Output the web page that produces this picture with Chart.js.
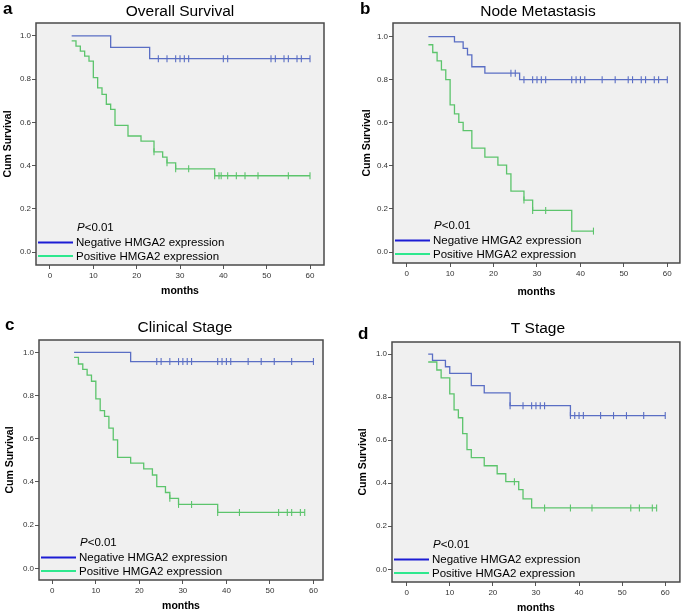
<!DOCTYPE html>
<html>
<head>
<meta charset="utf-8">
<script src="https://cdn.jsdelivr.net/npm/chart.js@4.4.1/dist/chart.umd.min.js"></script>
<style>
  body { margin: 0; background: #fff; width: 685px; height: 614px; position: relative; overflow: hidden; }
  canvas { position: absolute; }
</style>
</head>
<body>
<canvas id="chartA" width="340" height="300" style="left:0;top:0"></canvas>
<canvas id="chartB" width="345" height="300" style="left:340px;top:0"></canvas>
<canvas id="chartC" width="340" height="314" style="left:0;top:300px"></canvas>
<canvas id="chartD" width="345" height="314" style="left:340px;top:300px"></canvas>
<script>
// tick labels
const monthTicks = [0, 10, 20, 30, 40, 50, 60];
const survTicks = [0, 0.2, 0.4, 0.6, 0.8, 1.0];

// a - Overall Survival
const osNegTimes = [5, 14, 23];
const osNegSurv = [1.0, 0.947, 0.895];
const osNegCensor = [25, 27, 29, 30, 31, 32, 40, 41, 51, 52, 54, 55, 57, 58, 60];
const osPosTimes = [5, 6, 7, 8, 9, 10, 11, 12, 13, 14, 15, 18, 21, 24, 26, 27, 29, 38];
const osPosSurv = [0.977, 0.953, 0.930, 0.907, 0.884, 0.807, 0.760, 0.730, 0.684, 0.660, 0.586, 0.537, 0.513, 0.464, 0.439, 0.413, 0.385, 0.353];
const osPosCensor = [24, 27, 29, 32, 38, 39, 39.5, 41, 43, 45, 48, 55, 60];

// b - Node Metastasis
const nmNegTimes = [5, 11, 13, 14, 15, 18, 26];
const nmNegSurv = [1.0, 0.975, 0.945, 0.915, 0.860, 0.830, 0.800];
const nmNegCensor = [24, 25, 27, 29, 30, 31, 32, 38, 39, 40, 41, 45, 48, 51, 52, 54, 55, 57, 58, 60];
const nmPosTimes = [5, 6, 7, 8, 9, 10, 11, 12, 13, 15, 18, 21, 23, 24, 27, 29, 38];
const nmPosSurv = [0.962, 0.926, 0.887, 0.845, 0.800, 0.683, 0.641, 0.602, 0.563, 0.482, 0.440, 0.403, 0.363, 0.283, 0.241, 0.193, 0.097];
const nmPosCensor = [27, 29, 32, 43];

// c - Clinical Stage
const csNegTimes = [5, 18];
const csNegSurv = [1.0, 0.957];
const csNegCensor = [24, 25, 27, 29, 30, 31, 32, 38, 39, 40, 41, 45, 48, 51, 55, 60];
const csPosTimes = [5, 6, 7, 8, 9, 10, 11, 12, 13, 14, 15, 18, 21, 23, 24, 26, 27, 29, 38];
const csPosSurv = [0.977, 0.946, 0.921, 0.894, 0.866, 0.784, 0.730, 0.703, 0.649, 0.595, 0.514, 0.487, 0.460, 0.432, 0.378, 0.351, 0.324, 0.296, 0.259];
const csPosCensor = [27, 29, 32, 38, 43, 52, 54, 55, 57, 58];

// d - T Stage
const tsNegTimes = [5, 6, 9, 10, 15, 18, 24, 38];
const tsNegSurv = [1.0, 0.971, 0.941, 0.910, 0.853, 0.820, 0.760, 0.714];
const tsNegCensor = [24, 27, 29, 30, 31, 32, 38, 39, 40, 41, 45, 48, 51, 55, 60];
const tsPosTimes = [5, 7, 8, 10, 11, 12, 13, 14, 15, 18, 21, 23, 26, 27, 29];
const tsPosSurv = [0.963, 0.926, 0.889, 0.815, 0.741, 0.704, 0.630, 0.556, 0.519, 0.481, 0.444, 0.407, 0.370, 0.327, 0.285];
const tsPosCensor = [25, 32, 38, 43, 52, 54, 57, 58];

const seriesNames = ['Negative HMGA2 expression', 'Positive HMGA2 expression'];
const NEG_COLOR = '#5a6ec4';
const POS_COLOR = '#5cc46c';
const NEG_KEY = '#1c1cd4';
const POS_KEY = '#2ee88e';
const FONT = 'Arial, "Liberation Sans", sans-serif';

function survAt(times, surv, t) {
  let s = surv[0];
  for (let i = 0; i < times.length; i++) {
    if (times[i] <= t) s = surv[i];
  }
  return s;
}

function stepData(times, surv, censor) {
  const pts = times.map((t, i) => ({ x: t, y: surv[i] }));
  const end = Math.max(times[times.length - 1], ...censor);
  pts.push({ x: end, y: surv[surv.length - 1] });
  return pts;
}

function censorData(times, surv, censor) {
  return censor.map(t => ({ x: t, y: survAt(times, surv, t) }));
}

function groupDatasets(times, surv, censor, color) {
  return [
    {
      type: 'line',
      data: stepData(times, surv, censor),
      stepped: 'before',
      borderColor: color,
      borderWidth: 1.3,
      pointRadius: 0,
      fill: false
    },
    {
      type: 'scatter',
      data: censorData(times, surv, censor),
      pointStyle: 'line',
      rotation: 90,
      pointRadius: 3.5,
      borderColor: color,
      borderWidth: 1.1,
      showLine: false
    }
  ];
}

// draws background, frame, titles and the in-plot key
const panelDecor = {
  id: 'panelDecor',
  beforeDraw(chart) {
    const { ctx, chartArea: a } = chart;
    ctx.save();
    ctx.fillStyle = '#f0f0f0';
    ctx.fillRect(a.left, a.top, a.right - a.left, a.bottom - a.top);
    ctx.restore();
  },
  afterDraw(chart, args, o) {
    const { ctx, chartArea: a } = chart;
    const cx = (a.left + a.right) / 2;
    ctx.save();
    ctx.strokeStyle = '#4a4a4a';
    ctx.lineWidth = 1.5;
    ctx.strokeRect(a.left, a.top, a.right - a.left, a.bottom - a.top);

    ctx.fillStyle = '#000';
    ctx.textBaseline = 'alphabetic';
    ctx.textAlign = 'left';
    ctx.font = 'bold 17px ' + FONT;
    ctx.fillText(o.letter, o.letterX, o.letterY);

    ctx.textAlign = 'center';
    ctx.font = '15.5px ' + FONT;
    ctx.fillText(o.title, cx + (o.titleDx || 0), o.titleY);

    ctx.font = 'bold 10.5px ' + FONT;
    ctx.textBaseline = 'middle';
    ctx.fillText('months', cx, o.monthsY);
    ctx.save();
    ctx.translate(o.yTitleX, (a.top + a.bottom) / 2);
    ctx.rotate(-Math.PI / 2);
    ctx.fillText('Cum Survival', 0, 0);
    ctx.restore();

    // p value
    ctx.textAlign = 'left';
    ctx.font = 'italic 11.5px ' + FONT;
    const px = a.left + 41;
    const py = a.bottom - 37;
    ctx.fillText('P', px, py);
    const pw = ctx.measureText('P').width;
    ctx.font = '11.5px ' + FONT;
    ctx.fillText('<0.01', px + pw, py);

    // key
    const keys = [NEG_KEY, POS_KEY];
    const ys = [a.bottom - 22.5, a.bottom - 9];
    keys.forEach((c, i) => {
      ctx.strokeStyle = c;
      ctx.lineWidth = 2;
      ctx.beginPath();
      ctx.moveTo(a.left + 2, ys[i]);
      ctx.lineTo(a.left + 37, ys[i]);
      ctx.stroke();
      ctx.fillStyle = '#000';
      ctx.fillText(seriesNames[i], a.left + 40, ys[i] + 0.5);
    });
    ctx.restore();
  }
};

function makeChart(id, p) {
  const canvas = document.getElementById(id);
  const W = canvas.width, H = canvas.height;
  new Chart(canvas, {
    type: 'line',
    data: {
      datasets: [
        ...groupDatasets(p.neg[0], p.neg[1], p.neg[2], NEG_COLOR),
        ...groupDatasets(p.pos[0], p.pos[1], p.pos[2], POS_COLOR)
      ]
    },
    options: {
      responsive: false,
      animation: false,
      layout: { padding: { left: 0, top: p.area.top, right: W - p.area.right, bottom: 0 } },
      plugins: {
        legend: { display: false },
        tooltip: { enabled: false },
        panelDecor: p.decor
      },
      scales: {
        x: {
          type: 'linear',
          min: p.xMin,
          max: p.xMax,
          afterFit: s => { s.height = H - p.area.bottom; },
          afterBuildTicks: s => { s.ticks = monthTicks.map(v => ({ value: v })); },
          grid: { drawOnChartArea: false, tickLength: 4, color: '#555' },
          border: { display: false },
          ticks: { padding: 1.5, color: '#333', font: { size: 8, family: FONT }, maxRotation: 0 }
        },
        y: {
          min: p.yMin,
          max: p.yMax,
          afterFit: s => { s.width = p.area.left; },
          afterBuildTicks: s => { s.ticks = survTicks.map(v => ({ value: v })); },
          grid: { drawOnChartArea: false, tickLength: 4, color: '#555' },
          border: { display: false },
          ticks: { padding: 1, color: '#333', font: { size: 8, family: FONT }, callback: v => v.toFixed(1) }
        }
      }
    },
    plugins: [panelDecor]
  });
}

makeChart('chartA', {
  neg: [osNegTimes, osNegSurv, osNegCensor],
  pos: [osPosTimes, osPosSurv, osPosCensor],
  area: { left: 36, right: 324, top: 23, bottom: 265 },
  xMin: -3.23, xMax: 63.23, yMin: -0.06, yMax: 1.06,
  decor: { letter: 'a', letterX: 3, letterY: 14, title: 'Overall Survival', titleY: 16, monthsY: 291, yTitleX: 8 }
});

makeChart('chartB', {
  neg: [nmNegTimes, nmNegSurv, nmNegCensor],
  pos: [nmPosTimes, nmPosSurv, nmPosCensor],
  area: { left: 53, right: 340, top: 23, bottom: 263 },
  xMin: -3.15, xMax: 62.9, yMin: -0.051, yMax: 1.063,
  decor: { letter: 'b', letterX: 20, letterY: 14, title: 'Node Metastasis', titleDx: 1.5, titleY: 16, monthsY: 292, yTitleX: 27 }
});

makeChart('chartC', {
  neg: [csNegTimes, csNegSurv, csNegCensor],
  pos: [csPosTimes, csPosSurv, csPosCensor],
  area: { left: 39, right: 323, top: 40, bottom: 280 },
  xMin: -3.06, xMax: 62.2, yMin: -0.054, yMax: 1.057,
  decor: { letter: 'c', letterX: 5, letterY: 30, title: 'Clinical Stage', titleDx: 4, titleY: 32, monthsY: 306, yTitleX: 10 }
});

makeChart('chartD', {
  neg: [tsNegTimes, tsNegSurv, tsNegCensor],
  pos: [tsPosTimes, tsPosSurv, tsPosCensor],
  area: { left: 52, right: 342, top: 42, bottom: 282 },
  xMin: -3.4, xMax: 63.4, yMin: -0.059, yMax: 1.056,
  decor: { letter: 'd', letterX: 18, letterY: 39, title: 'T Stage', titleDx: 2, titleY: 33, monthsY: 308, yTitleX: 23 }
});
</script>
</body>
</html>
